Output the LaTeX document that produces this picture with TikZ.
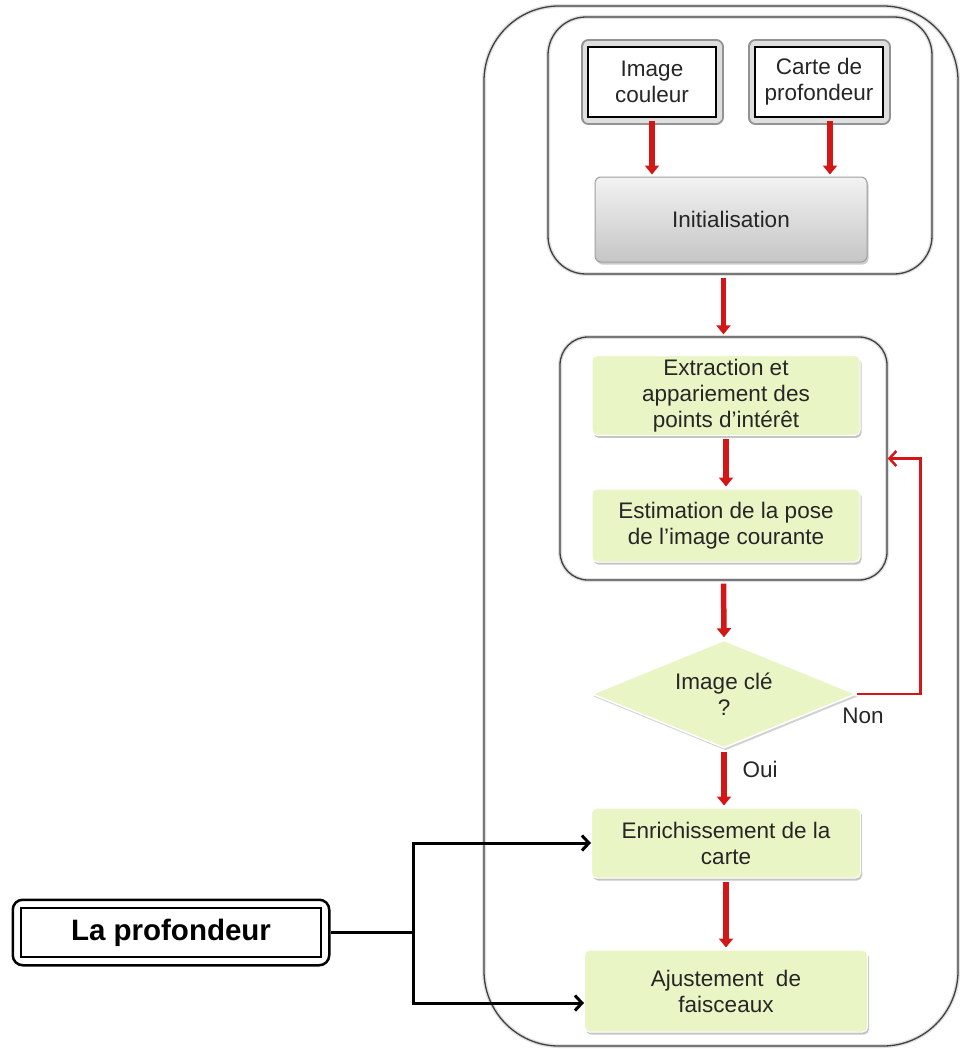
\documentclass[tikz,border=0pt]{standalone}
\usepackage{fontspec}
\setmainfont{Liberation Sans}
\usetikzlibrary{arrows.meta,shapes.geometric,shadows,fit,calc}

\definecolor{boxgreen}{RGB}{234,245,198}
\definecolor{flowred}{RGB}{212,22,22}

\begin{document}
\begin{tikzpicture}[x=1pt, y=-1pt,
  every node/.style={font=\fontsize{22.5}{26}\selectfont, text=black!85, align=center},
  groupbox/.style={rectangle, draw=black!75, line width=1.3pt, rounded corners=38pt,
    preaction={draw=black!12, line width=4pt}},
  stepbox/.style={rectangle, rounded corners=5pt, fill=boxgreen, draw=white, line width=1pt,
    drop shadow={shadow xshift=1.5pt, shadow yshift=-2.5pt, fill=black!45}},
  initbox/.style={rectangle, rounded corners=6pt, top color=gray!10, bottom color=gray!45,
    draw=gray!75, line width=1pt,
    drop shadow={shadow xshift=1.5pt, shadow yshift=-2.5pt, fill=black!40}},
  srcbox/.style={rectangle, draw=black, line width=1.3pt, fill=white,
    minimum width=128pt, minimum height=70pt,
    preaction={draw=gray!85, line width=15pt, line join=round},
    preaction={draw=gray!25, line width=11pt, line join=round}},
  keybox/.style={diamond, aspect=2.44, inner sep=0pt, minimum width=264pt, minimum height=108pt,
    fill=boxgreen, draw=white, line width=1.5pt,
    drop shadow={shadow xshift=1.5pt, shadow yshift=-2.5pt, fill=black!35}},
  redarrow/.style={draw=flowred, line width=5.5pt, -{Triangle[length=9pt,width=14pt]},
    shorten <=3pt, shorten >=2pt},
  loopline/.style={draw=flowred, line width=2.5pt, -{Straight Barb[length=7pt,width=15pt]}},
  feed/.style={draw=black, line width=3pt},
  feedarrow/.style={feed, -{Straight Barb[length=7pt,width=15pt]}}
]
  \useasboundingbox (0,0) rectangle (960,1049);

  % outer frame and groups
  \node[groupbox, rounded corners=75pt, minimum width=474pt, minimum height=1040pt] (whole) at (721,526) {};
  \node[groupbox, minimum width=384pt, minimum height=257pt] (grpA) at (740,145.5) {};
  \node[groupbox, rounded corners=28pt, minimum width=327pt, minimum height=243pt] (grpB) at (723.5,458.5) {};

  % inputs and initialisation
  \node[srcbox] (img) at (652,82) {Image\\couleur};
  \node[srcbox] (depth) at (819,82) {Carte de\\profondeur};
  \node[initbox, minimum width=272pt, minimum height=85pt] (init) at (731,219.5) {Initialisation};

  % tracking steps
  \node[stepbox, minimum width=268pt, minimum height=75pt] (ext) at (726,395.5)
    {Extraction et\\appariement des\\points d’intérêt};
  \node[stepbox, minimum width=268pt, minimum height=73pt] (est) at (726,525.5)
    {Estimation de la pose\\de l’image courante};

  % key frame test
  \node[keybox] (key) at (724,694) {Image clé\\?};

  % mapping steps
  \node[stepbox, minimum width=269pt, minimum height=70pt] (enr) at (726,843)
    {Enrichissement de la\\carte};
  \node[stepbox, minimum width=283pt, minimum height=82pt] (adj) at (726,991)
    {Ajustement \ de\\faisceaux};

  % depth input
  \node[draw=black, line width=2.5pt, minimum width=300pt, minimum height=49pt,
    font=\fontsize{29.5}{34}\selectfont\bfseries, text=black] (prof) at (171,932.5) {La profondeur};
  \node[fit=(prof), inner sep=7pt, draw=black, line width=2.5pt, rounded corners=10pt] (profframe) {};

  % red flow
  \draw[redarrow] (img.south) -- (img.south |- init.north);
  \draw[redarrow] ([xshift=11pt]depth.south) -- ([xshift=11pt]depth.south |- init.north);
  \draw[redarrow] (grpA.south -| grpB.north) -- (grpB.north);
  \draw[redarrow] (ext.south) -- (est.north);
  \draw[redarrow] (grpB.south) -- (key.north);
  \draw[redarrow] (key.south) -- (key.south |- enr.north);
  \draw[redarrow] (enr.south) -- (enr.south |- adj.north);

  % loop back when not a key frame
  \draw[loopline] (key.east) -| ($(grpB.east)+(33,0)$) -- (grpB.east);

  % branch labels
  \node (non) at (863,716) {Non};
  \node (oui) at (760,769) {Oui};

  % depth feeds
  \coordinate (split) at (413,932.5);
  \draw[feed] (profframe.east) -- (split);
  \draw[feedarrow] (split) |- (enr.west);
  \draw[feedarrow] (split) |- ([yshift=-12pt]adj.west);

\end{tikzpicture}
\end{document}
